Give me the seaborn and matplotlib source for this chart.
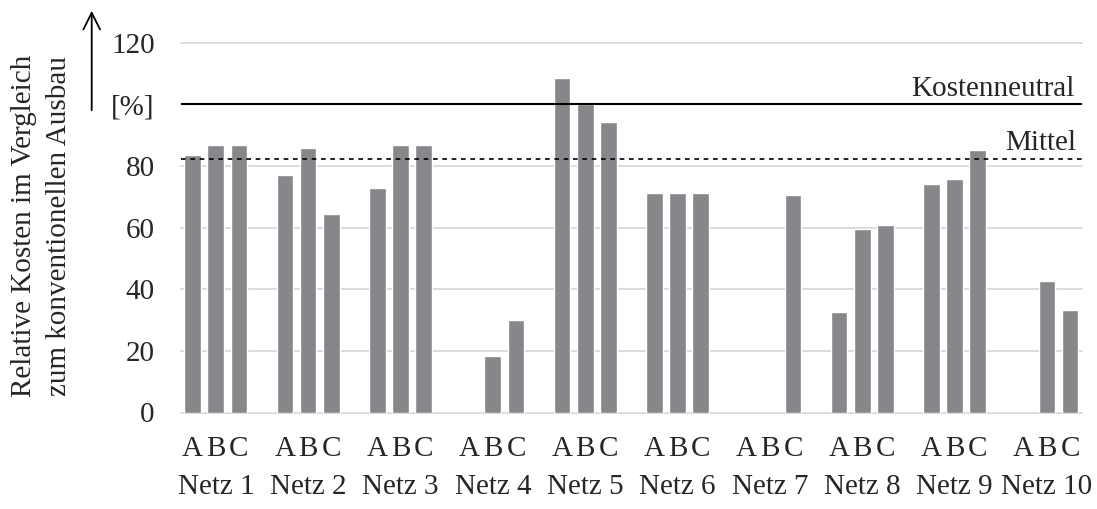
import numpy as np
import pandas as pd
import seaborn as sns
import matplotlib
matplotlib.use("Agg")
import matplotlib.pyplot as plt

# values (relative costs in %)
netze = ["Netz 1", "Netz 2", "Netz 3", "Netz 4", "Netz 5",
         "Netz 6", "Netz 7", "Netz 8", "Netz 9", "Netz 10"]
varianten = ["A", "B", "C"]
werte_a = [83.7, 77.1, 72.8, np.nan, 108.7, 71.2, np.nan, 32.5, 74.1, np.nan]
werte_b = [86.8, 85.9, 86.9, 18.3, 100.0, 71.2, np.nan, 59.5, 75.7, 42.8]
werte_c = [86.8, 64.5, 86.9, 30.1, 94.2, 71.2, 70.5, 60.8, 85.2, 33.2]
kostenneutral = 100.0
mittel = 82.4
y_ticks = [0, 20, 40, 60, 80, 100, 120]
y_ticklabels = ["0", "20", "40", "60", "80", "[%]", "120"]

BAR_COLOR = "#86878b"
GRID_COLOR = "#d9d9d9"
FS = 21


def build_frame() -> pd.DataFrame:
    rows = []
    for variante, werte in zip(varianten, [werte_a, werte_b, werte_c]):
        for netz, wert in zip(netze, werte):
            rows.append({"netz": netz, "variante": variante, "wert": wert})
    return pd.DataFrame(rows)


sns.set_theme(style="white")
plt.rcParams['font.family'] = ['Liberation Serif', 'DejaVu Serif']

data = build_frame()
fig = plt.figure(figsize=(10.97, 5.09), dpi=100)
ax = fig.add_axes([181 / 1097, 1 - 412.5 / 509, 900.7 / 1097, 369.8 / 509])

group_width = 0.753
sns.barplot(data=data, x="netz", y="wert", hue="variante", order=netze,
            hue_order=varianten, palette=[BAR_COLOR] * 3, width=group_width,
            gap=0.28, errorbar=None, saturation=1, legend=False, ax=ax)

ax.set_xlim(-0.377, len(netze) - 1 + 0.377)
ax.set_ylim(0, 120)
ax.set_yticks(y_ticks)
ax.set_yticklabels(y_ticklabels, fontsize=FS)
ax.set(xlabel=None, ylabel=None)

# grid
ax.yaxis.grid(True, color=GRID_COLOR, linewidth=1.3)
ax.set_axisbelow(True)
for line in ax.get_ygridlines():
    line.set_clip_on(False)
for side in ["top", "right", "left", "bottom"]:
    ax.spines[side].set_visible(False)

# x ticks: letters under each bar (minor), net names (major)
centers = np.arange(len(netze))
offsets = (np.arange(len(varianten)) - 1) * group_width / len(varianten)
minor_pos = (centers[:, None] + offsets[None, :]).ravel()
ax.xaxis.remove_overlapping_locs = False
ax.set_xticks(centers)
ax.set_xticklabels(netze, fontsize=FS)
ax.set_xticks(minor_pos, minor=True)
ax.set_xticklabels(varianten * len(netze), minor=True, fontsize=FS)
ax.tick_params(axis="x", which="major", length=0, pad=44)
ax.tick_params(axis="x", which="minor", length=0, pad=17)
ax.tick_params(axis="y", length=0, pad=19)

# reference lines
ax.axhline(kostenneutral, color="black", linewidth=1.5, zorder=3)
ax.axhline(mittel, color="black", linewidth=1.2, linestyle=(0, (2.8, 2.8)), zorder=3)
ax.annotate("Kostenneutral", xy=(0.992, kostenneutral), xycoords=("axes fraction", "data"),
            xytext=(0, 6.3), textcoords="offset points", ha="right", va="baseline", fontsize=FS)
ax.annotate("Mittel", xy=(0.994, mittel), xycoords=("axes fraction", "data"),
            xytext=(0, 6.3), textcoords="offset points", ha="right", va="baseline", fontsize=FS)

# y label and arrow
fig.text(42 / 1097, 1 - 226 / 509, "Relative Kosten im Vergleich\nzum konventionellen Ausbau",
         rotation=90, ha="center", va="center", multialignment="center", fontsize=FS,
         linespacing=1.45)
ax.annotate("", xy=(91.7 / 1097, 1 - 8 / 509), xycoords="figure fraction",
            xytext=(91.7 / 1097, 1 - 113 / 509), textcoords="figure fraction",
            arrowprops=dict(arrowstyle="->,head_length=0.6,head_width=0.3",
                            lw=1.3, color="black", mutation_scale=20))

fig.savefig("out.png", dpi=100)
